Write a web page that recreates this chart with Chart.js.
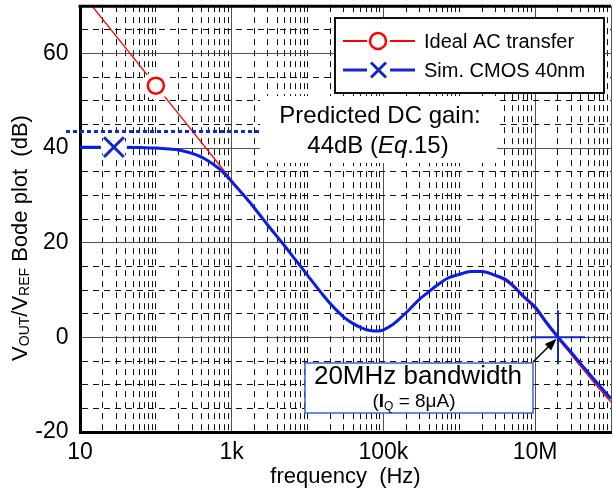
<!DOCTYPE html>
<html>
<head>
<meta charset="utf-8">
<script src="https://cdn.jsdelivr.net/npm/chart.js@4.4.1/dist/chart.umd.min.js"></script>
<style>
  html, body { margin: 0; padding: 0; background: #fff; overflow: hidden; }
  #wrap { width: 613px; height: 494px; overflow: hidden; }
</style>
</head>
<body>
<div id="wrap"><canvas id="bode" width="618" height="494"></canvas></div>
<script>
// frequency (Hz) / gain (dB)
const freqSim = [10, 20, 40, 70, 100, 150, 200, 300, 400, 500, 700, 1000, 1500, 2000, 3000, 5000, 7000,
  1e4, 1.5e4, 2e4, 3e4, 4e4, 5e4, 6e4, 7e4, 8.5e4, 1e5, 1.3e5, 1.7e5, 2.2e5, 3e5, 4e5, 5e5, 7e5,
  1e6, 1.4e6, 2e6, 3e6, 4e6, 5e6, 7e6, 1e7, 1.4e7, 2e7, 3e7, 4e7, 6e7, 1e8];
const gainSim = [40.2, 40.2, 40.2, 40.1, 40.0, 39.8, 39.6, 38.9, 38.1, 37.2, 35.5, 32.9, 29.7, 27.3, 23.7, 19.3, 16.3,
  13.1, 9.5, 7.1, 4.3, 2.9, 2.1, 1.6, 1.4, 1.35, 1.6, 2.6, 4.2, 5.9, 8.1, 9.7, 10.9, 12.5,
  13.3, 13.9, 13.9, 13.1, 12.3, 11.1, 8.7, 6.4, 3.2, 0.1, -3.2, -5.6, -8.9, -13.0];

const freqIdeal = [10, 100, 1000, 1500, 2000, 3000, 5000, 7000,
  1e4, 1.5e4, 2e4, 3e4, 4e4, 5e4, 6e4, 7e4, 8.5e4, 1e5, 1.3e5, 1.7e5, 2.2e5, 3e5, 4e5, 5e5, 7e5,
  1e6, 1.4e6, 2e6, 3e6, 4e6, 5e6, 7e6, 1e7, 1.4e7, 2e7, 3e7, 4e7, 6e7, 1e8];
const gainIdeal = [73.2, 53.2, 33.2, 29.7, 27.1, 23.5, 19.1, 16.2,
  13.0, 9.4, 7.0, 4.2, 2.8, 2.0, 1.55, 1.35, 1.3, 1.5, 2.5, 4.1, 5.8, 8.0, 9.6, 10.8, 12.4,
  13.2, 13.8, 13.8, 12.9, 12.0, 10.8, 8.4, 6.0, 2.9, -0.3, -3.7, -6.2, -9.6, -13.7];

// single markers on each curve
const idealMarker = [{ x: 100, y: 53.2 }];
const simMarker = [{ x: 28, y: 40.2 }];
const bandwidthPoint = [{ x: 2e7, y: 0 }];
const predictedGain = 43.5;

const xDecades = [10, 100, 1e3, 1e4, 1e5, 1e6, 1e7];
const xLabels = { 10: '10', 1000: '1k', 100000: '100k', 10000000: '10M' };
const xMajor = [10, 1e3, 1e5, 1e7, 1e8];

const xTicks = [];
xDecades.forEach(d => { for (let m = 1; m < 10; m++) xTicks.push(d * m); });
xTicks.push(1e8);

const RED = '#ff0000';
const BLUE = '#0a1ee6';
const BLUE_DK = '#1428c8';
const FONT = "'Liberation Sans', Arial, sans-serif";

function gridColor(isMajor) { return isMajor ? '#505050' : '#111'; }

const annotations = {
  id: 'annotations',
  afterDatasetsDraw(chart) {
    const { ctx, chartArea: a, scales: { x, y } } = chart;
    ctx.save();

    // top frame
    ctx.strokeStyle = '#000';
    ctx.lineWidth = 3;
    ctx.beginPath();
    ctx.moveTo(a.left - 1.5, a.top);
    ctx.lineTo(a.right, a.top);
    ctx.stroke();

    // predicted DC gain line
    const yG = y.getPixelForValue(predictedGain);
    ctx.strokeStyle = BLUE_DK;
    ctx.lineWidth = 3;
    ctx.setLineDash([4, 3]);
    ctx.beginPath();
    ctx.moveTo(66, yG);
    ctx.lineTo(260, yG);
    ctx.stroke();
    ctx.setLineDash([]);

    // predicted gain text
    ctx.fillStyle = '#fff';
    ctx.fillRect(260, 96, 237, 67);
    ctx.fillStyle = '#000';
    ctx.textBaseline = 'middle';
    ctx.textAlign = 'center';
    ctx.font = '24px ' + FONT;
    ctx.fillText('Predicted DC gain:', 380, 116);
    const parts = [['44dB (', '24px '], ['Eq', 'italic 24px '], ['.15)', '24px ']];
    let w = 0;
    parts.forEach(p => { ctx.font = p[1] + FONT; w += ctx.measureText(p[0]).width; });
    let px = 378 - w / 2;
    ctx.textAlign = 'left';
    parts.forEach(p => {
      ctx.font = p[1] + FONT;
      ctx.fillText(p[0], px, 146);
      px += ctx.measureText(p[0]).width;
    });

    // legend
    ctx.fillStyle = '#fff';
    ctx.fillRect(335, 18, 269, 75);
    ctx.strokeStyle = '#111';
    ctx.lineWidth = 2;
    ctx.strokeRect(335, 18, 269, 75);
    const rows = [
      { y: 41, color: RED, label: 'Ideal AC transfer', mark: 'circle' },
      { y: 70, color: BLUE_DK, label: 'Sim. CMOS 40nm', mark: 'x' }
    ];
    rows.forEach(r => {
      ctx.strokeStyle = r.color;
      ctx.lineWidth = r.mark === 'circle' ? 2 : 3;
      ctx.beginPath();
      ctx.moveTo(343, r.y); ctx.lineTo(367, r.y);
      ctx.moveTo(390, r.y); ctx.lineTo(415, r.y);
      ctx.stroke();
      ctx.lineWidth = r.mark === 'circle' ? 2.5 : 3;
      ctx.beginPath();
      if (r.mark === 'circle') {
        ctx.arc(378, r.y, 8, 0, Math.PI * 2);
      } else {
        ctx.moveTo(371, r.y - 7.5); ctx.lineTo(386, r.y + 7.5);
        ctx.moveTo(386, r.y - 7.5); ctx.lineTo(371, r.y + 7.5);
      }
      ctx.stroke();
      ctx.fillStyle = '#000';
      ctx.font = '20px ' + FONT;
      ctx.textAlign = 'left';
      ctx.fillText(r.label, 424, r.y + 1);
    });

    // bandwidth callout
    const bx = x.getPixelForValue(bandwidthPoint[0].x);
    const by = y.getPixelForValue(bandwidthPoint[0].y);
    ctx.strokeStyle = '#000';
    ctx.fillStyle = '#000';
    ctx.lineWidth = 1.5;
    const sx = 533, sy = 362;
    const ang = Math.atan2(by - sy, bx - sx);
    const tx = bx - Math.cos(ang) * 2, ty = by - Math.sin(ang) * 2;
    ctx.beginPath();
    ctx.moveTo(sx, sy);
    ctx.lineTo(tx - Math.cos(ang) * 9, ty - Math.sin(ang) * 9);
    ctx.stroke();
    ctx.beginPath();
    ctx.moveTo(tx, ty);
    ctx.lineTo(tx - Math.cos(ang) * 12 + Math.sin(ang) * 4.5, ty - Math.sin(ang) * 12 - Math.cos(ang) * 4.5);
    ctx.lineTo(tx - Math.cos(ang) * 12 - Math.sin(ang) * 4.5, ty - Math.sin(ang) * 12 + Math.cos(ang) * 4.5);
    ctx.closePath();
    ctx.fill();

    ctx.fillStyle = '#fff';
    ctx.fillRect(305, 363, 228, 50);
    ctx.strokeStyle = '#3a62d8';
    ctx.lineWidth = 1.5;
    ctx.strokeRect(305, 363, 228, 50);
    ctx.fillStyle = '#000';
    ctx.textAlign = 'center';
    ctx.font = '26px ' + FONT;
    ctx.fillText('20MHz bandwidth', 418, 377);
    const sub = [['(', '19px ', 0], ['I', 'bold 19px ', 0], ['Q', '12px ', 3], [' = 8\u03bcA)', '19px ', 0]];
    w = 0;
    sub.forEach(p => { ctx.font = p[1] + FONT; w += ctx.measureText(p[0]).width; });
    px = 414 - w / 2;
    ctx.textAlign = 'left';
    ctx.textBaseline = 'alphabetic';
    sub.forEach(p => {
      ctx.font = p[1] + FONT;
      ctx.fillText(p[0], px, 407 + p[2]);
      px += ctx.measureText(p[0]).width;
    });

    // y axis title with subscripts
    ctx.translate(27, 238);
    ctx.rotate(-Math.PI / 2);
    const ttl = [['V', '22px ', 0], ['OUT', '14px ', 1.5], ['/V', '22px ', 0], ['REF', '14px ', 1.5], [' Bode plot  (dB)', '22px ', 0]];
    w = 0;
    ttl.forEach(p => { ctx.font = p[1] + FONT; w += ctx.measureText(p[0]).width; });
    px = -w / 2;
    ttl.forEach(p => {
      ctx.font = p[1] + FONT;
      ctx.fillText(p[0], px, p[2]);
      px += ctx.measureText(p[0]).width;
    });

    ctx.restore();
  }
};

new Chart(document.getElementById('bode'), {
  type: 'line',
  data: {
    datasets: [
      {
        label: 'Sim. CMOS 40nm',
        data: freqSim.map((f, i) => ({ x: f, y: gainSim[i] })),
        borderColor: BLUE,
        borderWidth: 3,
        pointRadius: 0,
        cubicInterpolationMode: 'monotone',
        order: 3
      },
      {
        label: 'Ideal AC transfer',
        data: freqIdeal.map((f, i) => ({ x: f, y: gainIdeal[i] })),
        borderColor: RED,
        borderWidth: 1.3,
        pointRadius: 0,
        cubicInterpolationMode: 'monotone',
        order: 4
      },
      // white halos that break the lines round the markers
      {
        data: idealMarker, showLine: false, pointStyle: 'circle',
        pointRadius: 14, pointBackgroundColor: '#fff', pointBorderWidth: 0, order: 2
      },
      {
        data: simMarker, showLine: false, pointStyle: 'circle',
        pointRadius: 13, pointBackgroundColor: '#fff', pointBorderWidth: 0, order: 2
      },
      {
        data: idealMarker, showLine: false, pointStyle: 'circle',
        pointRadius: 8, pointBackgroundColor: '#fff', pointBorderColor: RED, pointBorderWidth: 2.5, order: 1
      },
      {
        data: simMarker, showLine: false, pointStyle: 'crossRot',
        pointRadius: 14, pointBorderColor: BLUE_DK, pointBorderWidth: 3, order: 1
      },
      {
        data: bandwidthPoint, showLine: false, pointStyle: 'cross',
        pointRadius: 27, pointBorderColor: BLUE_DK, pointBorderWidth: 2, order: 0
      }
    ]
  },
  options: {
    responsive: false,
    devicePixelRatio: 1,
    animation: false,
    events: [],
    layout: { autoPadding: false, padding: { top: 6, right: 3, left: 0, bottom: 0 } },
    plugins: { legend: { display: false }, tooltip: { enabled: false } },
    scales: {
      x: {
        type: 'logarithmic',
        min: 10,
        max: 1e8,
        afterBuildTicks: s => { s.ticks = xTicks.map(v => ({ value: v })); },
        afterFit: s => { s.height = 62; },
        ticks: {
          autoSkip: false,
          maxRotation: 0,
          minRotation: 0,
          padding: 7,
          color: '#000',
          font: { family: FONT, size: 23 },
          callback: v => xLabels[v] || ''
        },
        grid: {
          drawTicks: false,
          lineWidth: 1,
          color: c => gridColor(c.tick && xMajor.includes(c.tick.value))
        },
        border: {
          display: true,
          color: '#000',
          width: 3,
          dash: c => (c.tick && !xMajor.includes(c.tick.value)) ? [6, 5] : []
        },
        title: {
          display: true,
          text: 'frequency  (Hz)',
          color: '#000',
          font: { family: FONT, size: 22 },
          padding: { top: 0, bottom: 4 }
        }
      },
      y: {
        type: 'linear',
        min: -20,
        max: 70,
        afterFit: s => { s.width = 80; },
        ticks: {
          stepSize: 5,
          autoSkip: false,
          padding: 5,
          color: '#000',
          // tiny line height keeps the top label from padding the plot down
          font: { family: FONT, size: 23, lineHeight: 0.1 },
          callback: v => (v % 20 === 0 ? v + ' ' : '')
        },
        grid: {
          drawTicks: false,
          lineWidth: 1,
          color: c => gridColor(c.tick && c.tick.value % 20 === 0)
        },
        border: {
          display: true,
          color: '#000',
          width: 3,
          dash: c => (c.tick && c.tick.value % 20 !== 0) ? [6, 5] : []
        }
      }
    }
  },
  plugins: [annotations]
});
</script>
</body>
</html>
